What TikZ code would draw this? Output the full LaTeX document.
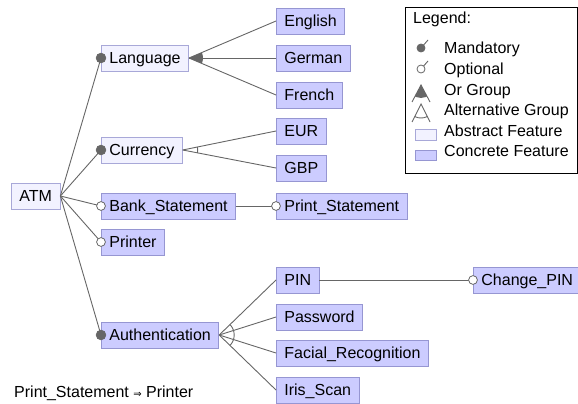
\documentclass[tikz,border=0pt]{standalone}
\usepackage{fontspec}
\setmainfont{Liberation Sans}
\newfontfamily\symfont{DejaVu Sans}
\begin{document}
\begin{tikzpicture}[x=1pt,y=-1pt,
  font=\fontsize{16}{19}\selectfont,
  feat/.style={draw, line width=0.8pt, anchor=west, inner xsep=8pt, inner ysep=3.75pt,
    text height=15pt, text depth=3.5pt, minimum height=26pt},
  abstractf/.style={feat, draw=absline, fill=absfill},
  concretef/.style={feat, draw=conline, fill=confill},
  edge/.style={draw=edgegray, line width=0.9pt},
  mand/.style={fill=edgegray, draw=edgegray, line width=0.8pt},
  opt/.style={fill=white, draw=edgegray, line width=0.8pt},
  legtext/.style={anchor=base west, inner sep=0pt}]
\definecolor{absfill}{RGB}{242,242,255}
\definecolor{absline}{RGB}{168,168,216}
\definecolor{confill}{RGB}{204,204,255}
\definecolor{conline}{RGB}{150,150,210}
\definecolor{edgegray}{RGB}{102,102,102}
\useasboundingbox (0,0) rectangle (578,404);

% feature boxes
\node[abstractf] (atm) at (11,196) {ATM};
\node[abstractf] (lang) at (101,58) {Language};
\node[abstractf] (cur) at (101,150) {Currency};
\node[concretef] (bank) at (101,206) {Bank\_Statement};
\node[concretef] (printer) at (101,242) {Printer};
\node[concretef] (auth) at (101,335) {Authentication};
\node[concretef] (eng) at (276,21) {English};
\node[concretef] (ger) at (276,58) {German};
\node[concretef] (fre) at (276,95) {French};
\node[concretef] (eur) at (276,131) {EUR};
\node[concretef] (gbp) at (276,168) {GBP};
\node[concretef] (pst) at (276,206) {Print\_Statement};
\node[concretef] (pin) at (276,280) {PIN};
\node[concretef] (pwd) at (276,317) {Password};
\node[concretef] (face) at (276,353) {Facial\_Recognition};
\node[concretef] (iris) at (276,390) {Iris\_Scan};
\node[concretef] (cpin) at (473,280) {Change\_PIN};

% ATM children
\foreach \c in {lang,cur,bank,printer,auth}
  \draw[edge] (atm.east) -- (\c.west);
\draw[edge] (bank.east) -- (pst.west);
\draw[edge] (pin.east) -- (cpin.west);

% Language: or group
\foreach \c in {eng,ger,fre}
  \draw[edge] (lang.east) -- (\c.west);
\begin{scope}
  \clip (lang.east) -- (eng.west) -- (fre.west) -- cycle;
  \fill[edgegray] (lang.east) circle (14);
\end{scope}

% Currency: alternative group
\foreach \c in {eur,gbp}
  \draw[edge] (cur.east) -- (\c.west);
\begin{scope}
  \clip (cur.east) -- (eur.west) -- (gbp.west) -- cycle;
  \draw[edge] (cur.east) circle (15);
\end{scope}

% Authentication: alternative group
\foreach \c in {pin,pwd,face,iris}
  \draw[edge] (auth.east) -- (\c.west);
\begin{scope}
  \clip (auth.east) -- (pin.west) -- (iris.west) -- cycle;
  \draw[edge] (auth.east) circle (15);
\end{scope}

% mandatory / optional markers
\foreach \c in {lang,cur,auth}
  \path[mand] (\c.west) circle (4.8);
\foreach \c in {bank,printer,pst,cpin}
  \path[opt] (\c.west) circle (4.4);

% legend
\draw[black, line width=0.8pt, fill=white] (405,7) rectangle (577.4,173);
\node[legtext] (lgt) at (413,24) {Legend:};
\coordinate (m0) at (421,48);
\coordinate (m1) at (428,40);
\draw[edge] (m0) -- (m1);
\path[mand] (m0) circle (4);
\node[legtext] (lm) at (444,54) {Mandatory};
\coordinate (o0) at (421,69);
\coordinate (o1) at (428,61);
\draw[edge] (o0) -- (o1);
\path[opt] (o0) circle (4);
\node[legtext] (lo) at (444,74.5) {Optional};
\coordinate (g0) at (421,85);
\coordinate (g1) at (412,102);
\coordinate (g2) at (430,102);
\draw[edge] (g1) -- (g0) -- (g2);
\begin{scope}
  \clip (g0) -- (g1) -- (g2) -- cycle;
  \fill[edgegray] (g0) circle (13);
\end{scope}
\node[legtext] (lor) at (444,95) {Or Group};
\coordinate (a0) at (421,104);
\coordinate (a1) at (412,122);
\coordinate (a2) at (430,122);
\draw[edge] (a1) -- (a0) -- (a2);
\begin{scope}
  \clip (a0) -- (a1) -- (a2) -- cycle;
  \draw[edge] (a0) circle (14);
\end{scope}
\node[legtext] (lalt) at (444,115.5) {Alternative Group};
\draw[line width=0.8pt, draw=absline, fill=absfill] (415,129) rectangle (436,140);
\node[legtext] (labs) at (444,136) {Abstract Feature};
\draw[line width=0.8pt, draw=conline, fill=confill] (415,150) rectangle (436,160);
\node[legtext] (lcon) at (444,156.5) {Concrete Feature};

% cross-tree constraint
\node[legtext] (ctc) at (14,397) {Print\_Statement {\symfont\fontsize{10}{12}\selectfont ⇒} Printer};
\end{tikzpicture}
\end{document}
